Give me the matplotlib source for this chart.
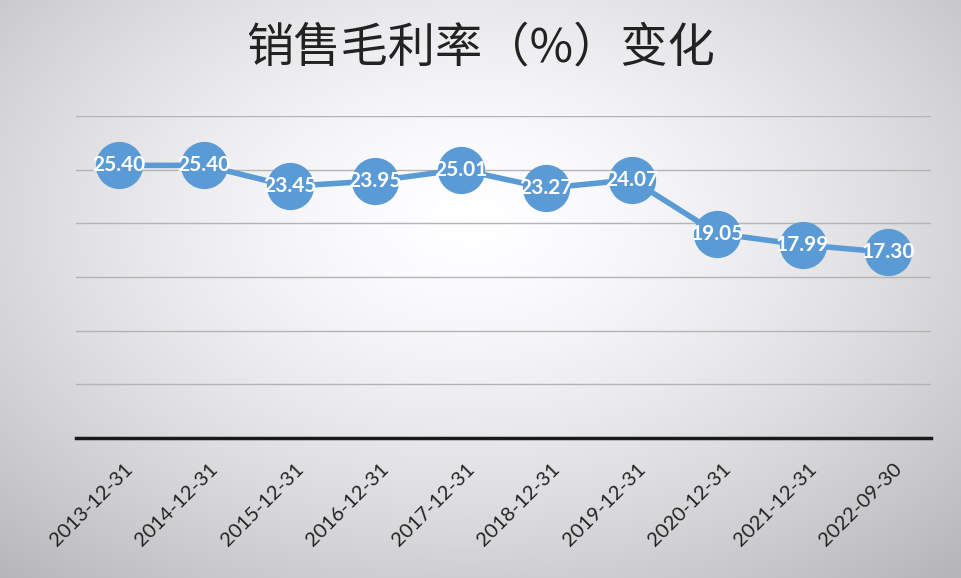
import numpy as np
import matplotlib
matplotlib.use("Agg")
import matplotlib.pyplot as plt
import matplotlib.transforms as mtransforms

plt.rcParams['font.family'] = ['Noto Sans CJK SC', 'DejaVu Sans']

# 数据
dates = ["2013-12-31", "2014-12-31", "2015-12-31", "2016-12-31", "2017-12-31",
         "2018-12-31", "2019-12-31", "2020-12-31", "2021-12-31", "2022-09-30"]
margin = [25.40, 25.40, 23.45, 23.95, 25.01, 23.27, 24.07, 19.05, 17.99, 17.30]

fig = plt.figure(figsize=(9.62, 5.78), dpi=100)

# 背景径向渐变
bg = fig.add_axes([0, 0, 1, 1], zorder=-10)
yy, xx = np.mgrid[0:578, 0:962]
r = np.sqrt(((xx - 470) / 600.0) ** 2 + ((yy - 220) / 400.0) ** 2)
shade = 1.0 - 0.22 * np.clip(r, 0, 1.2) ** 1.5
bg.imshow(np.dstack([shade, shade, shade * 1.01]).clip(0, 1), aspect="auto")
bg.axis("off")

ax = fig.add_axes([76 / 962, 140 / 578, 855 / 962, 322 / 578])
ax.patch.set_alpha(0)
x = np.arange(len(dates))
ax.plot(x, margin, color="#5b9bd5", lw=4, marker="o", ms=33,
        markerfacecolor="#5b9bd5", markeredgecolor="#5b9bd5", zorder=3)
for xi, v in zip(x, margin):
    ax.text(xi, v, f"{v:.2f}", color="white", fontsize=15, fontweight="bold",
            ha="center", va="center", zorder=4, family=["Lato", "DejaVu Sans"])

ax.set_xlim(-0.5, len(dates) - 0.5)
ax.set_ylim(0, 30)
ax.set_yticks(np.arange(5, 31, 5))
ax.yaxis.grid(True, color="#b4b4b4", lw=1)
ax.tick_params(axis="y", left=False, labelleft=False)
ax.tick_params(axis="x", length=0, pad=0)
ax.set_xticks(x)
ax.set_xticklabels(dates, rotation=45, ha="right", va="center",
                   rotation_mode="anchor", fontsize=14.5, color="#222222",
                   family=["Lato", "DejaVu Sans"])
offset = mtransforms.ScaledTranslation(11 / 100, -28 / 100, fig.dpi_scale_trans)
for lbl in ax.get_xticklabels():
    lbl.set_transform(lbl.get_transform() + offset)
for s in ["top", "right", "left"]:
    ax.spines[s].set_visible(False)
ax.spines["bottom"].set_color("#1a1a1a")
ax.spines["bottom"].set_linewidth(2.5)
ax.set_axisbelow(True)

fig.text(0.5, 1 - 48 / 578, "销售毛利率（%）变化", ha="center", va="center",
         fontsize=34, color="#222222", fontweight="medium")

fig.savefig("out.png", dpi=100)
